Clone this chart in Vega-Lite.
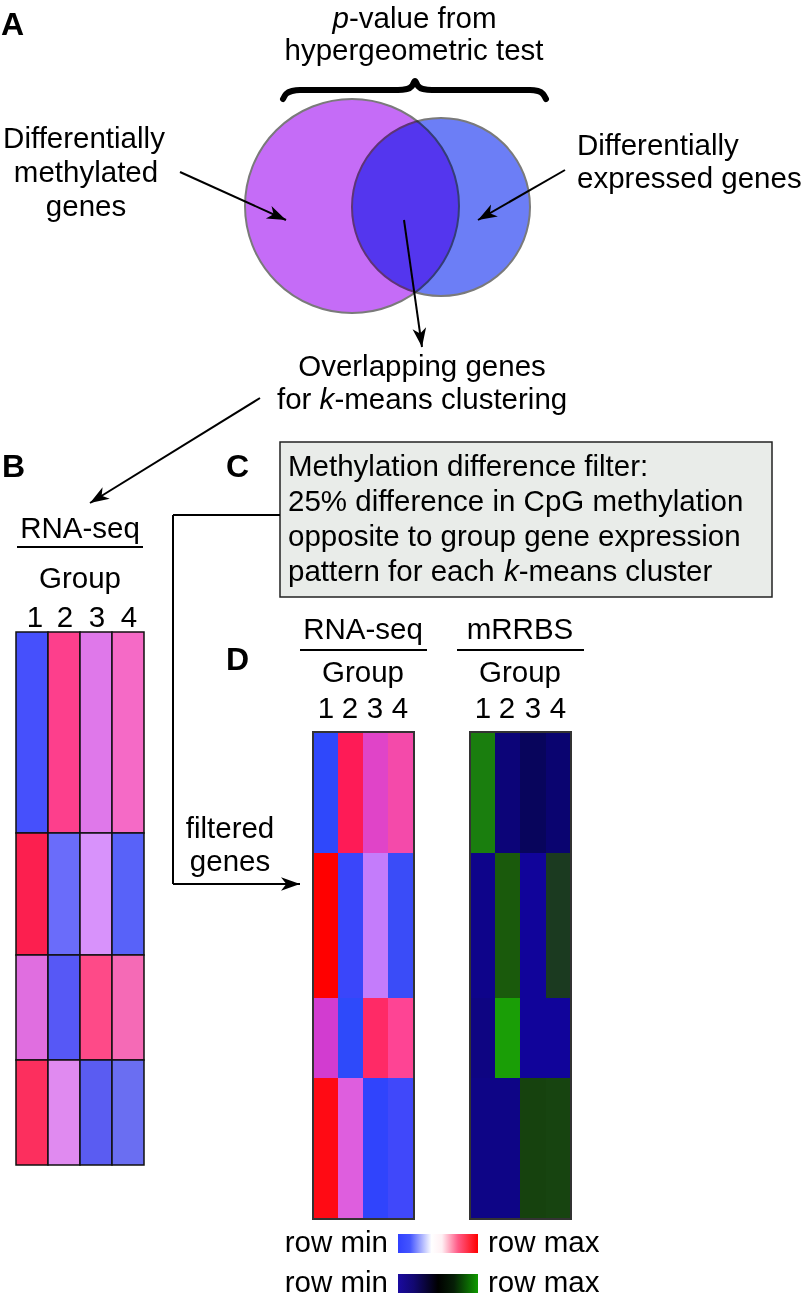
{
  "$schema": "https://vega.github.io/schema/vega-lite/v6.json",
  "width": 806,
  "height": 1297,
  "padding": 0,
  "autosize": "none",
  "background": "white",
  "config": {"view": {"stroke": null}},
  "encoding": {
    "x": {"field": "x", "type": "quantitative", "scale": {"domain": [0, 806], "nice": false, "zero": false}, "axis": null},
    "y": {"field": "y", "type": "quantitative", "scale": {"domain": [0, 1297], "nice": false, "zero": false, "reverse": true}, "axis": null}
  },
  "datasets": {
    "box": [{"x": 280, "x2": 772, "y": 442, "y2": 597}],
    "venn": [{"set": "methylated", "x": 352, "y": 206}, {"set": "expressed", "x": 441, "y": 207}],
    "brace": [
      {"i": 1, "x": 283, "y": 99}, {"i": 2, "x": 286, "y": 94}, {"i": 3, "x": 292, "y": 91}, {"i": 4, "x": 300, "y": 90},
      {"i": 5, "x": 398, "y": 90}, {"i": 6, "x": 407, "y": 89}, {"i": 7, "x": 412, "y": 86}, {"i": 8, "x": 415, "y": 81},
      {"i": 9, "x": 418, "y": 86}, {"i": 10, "x": 423, "y": 89}, {"i": 11, "x": 432, "y": 90}, {"i": 12, "x": 530, "y": 90},
      {"i": 13, "x": 538, "y": 91}, {"i": 14, "x": 543, "y": 94}, {"i": 15, "x": 546, "y": 99}
    ],
    "cellsB": [
      {"x": 16, "x2": 48, "y": 632, "y2": 833, "colour": "#4650fc"},
      {"x": 48, "x2": 80, "y": 632, "y2": 833, "colour": "#fd3f8c"},
      {"x": 80, "x2": 112, "y": 632, "y2": 833, "colour": "#df78ea"},
      {"x": 112, "x2": 144, "y": 632, "y2": 833, "colour": "#f56ac6"},
      {"x": 16, "x2": 48, "y": 833, "y2": 955, "colour": "#fc1f4f"},
      {"x": 48, "x2": 80, "y": 833, "y2": 955, "colour": "#6a6cfa"},
      {"x": 80, "x2": 112, "y": 833, "y2": 955, "colour": "#d892fb"},
      {"x": 112, "x2": 144, "y": 833, "y2": 955, "colour": "#5862f9"},
      {"x": 16, "x2": 48, "y": 955, "y2": 1060, "colour": "#e06ee0"},
      {"x": 48, "x2": 80, "y": 955, "y2": 1060, "colour": "#5658f6"},
      {"x": 80, "x2": 112, "y": 955, "y2": 1060, "colour": "#fe4a88"},
      {"x": 112, "x2": 144, "y": 955, "y2": 1060, "colour": "#f56ab6"},
      {"x": 16, "x2": 48, "y": 1060, "y2": 1165, "colour": "#fc2f5e"},
      {"x": 48, "x2": 80, "y": 1060, "y2": 1165, "colour": "#e08af0"},
      {"x": 80, "x2": 112, "y": 1060, "y2": 1165, "colour": "#5a5cf2"},
      {"x": 112, "x2": 144, "y": 1060, "y2": 1165, "colour": "#6a6ef2"}
    ],
    "cellsD": [
      {"x": 313, "x2": 338, "y": 732, "y2": 853, "colour": "#2f48fb"},
      {"x": 338, "x2": 363, "y": 732, "y2": 853, "colour": "#fe1b56"},
      {"x": 363, "x2": 388, "y": 732, "y2": 853, "colour": "#e044c8"},
      {"x": 388, "x2": 414, "y": 732, "y2": 853, "colour": "#f44aaa"},
      {"x": 313, "x2": 338, "y": 853, "y2": 998, "colour": "#ff0000"},
      {"x": 338, "x2": 363, "y": 853, "y2": 998, "colour": "#3a46fa"},
      {"x": 363, "x2": 388, "y": 853, "y2": 998, "colour": "#c47cfb"},
      {"x": 388, "x2": 414, "y": 853, "y2": 998, "colour": "#3a4cf8"},
      {"x": 313, "x2": 338, "y": 998, "y2": 1078, "colour": "#d23cd0"},
      {"x": 338, "x2": 363, "y": 998, "y2": 1078, "colour": "#2e4afa"},
      {"x": 363, "x2": 388, "y": 998, "y2": 1078, "colour": "#ff2a66"},
      {"x": 388, "x2": 414, "y": 998, "y2": 1078, "colour": "#fe4494"},
      {"x": 313, "x2": 338, "y": 1078, "y2": 1219, "colour": "#ff0a14"},
      {"x": 338, "x2": 363, "y": 1078, "y2": 1219, "colour": "#de5ede"},
      {"x": 363, "x2": 388, "y": 1078, "y2": 1219, "colour": "#3044fc"},
      {"x": 388, "x2": 414, "y": 1078, "y2": 1219, "colour": "#4048fa"},
      {"x": 470, "x2": 495, "y": 732, "y2": 853, "colour": "#1a7e0e"},
      {"x": 495, "x2": 520, "y": 732, "y2": 853, "colour": "#0c0478"},
      {"x": 520, "x2": 546, "y": 732, "y2": 853, "colour": "#08055c"},
      {"x": 546, "x2": 571, "y": 732, "y2": 853, "colour": "#0a0470"},
      {"x": 470, "x2": 495, "y": 853, "y2": 998, "colour": "#0e048a"},
      {"x": 495, "x2": 520, "y": 853, "y2": 998, "colour": "#1a5a0c"},
      {"x": 520, "x2": 546, "y": 853, "y2": 998, "colour": "#11049a"},
      {"x": 546, "x2": 571, "y": 853, "y2": 998, "colour": "#1b3a20"},
      {"x": 470, "x2": 495, "y": 998, "y2": 1078, "colour": "#0e0582"},
      {"x": 495, "x2": 520, "y": 998, "y2": 1078, "colour": "#1a9e06"},
      {"x": 520, "x2": 546, "y": 998, "y2": 1078, "colour": "#11049a"},
      {"x": 546, "x2": 571, "y": 998, "y2": 1078, "colour": "#11049a"},
      {"x": 470, "x2": 495, "y": 1078, "y2": 1219, "colour": "#0e0586"},
      {"x": 495, "x2": 520, "y": 1078, "y2": 1219, "colour": "#0e0586"},
      {"x": 520, "x2": 546, "y": 1078, "y2": 1219, "colour": "#16420e"},
      {"x": 546, "x2": 571, "y": 1078, "y2": 1219, "colour": "#174410"}
    ],
    "frames": [
      {"x": 313, "x2": 414, "y": 732, "y2": 1219},
      {"x": 470, "x2": 571, "y": 732, "y2": 1219}
    ],
    "scales": [
      {"name": "rna", "x": 398, "x2": 478, "y": 1234, "y2": 1253},
      {"name": "mrrbs", "x": 398, "x2": 478, "y": 1274, "y2": 1293}
    ],
    "segments": [
      {"x": 180, "y": 172, "x2": 286, "y2": 220},
      {"x": 565, "y": 170, "x2": 478, "y2": 220},
      {"x": 404, "y": 220, "x2": 422, "y2": 347},
      {"x": 260, "y": 398, "x2": 90, "y2": 503},
      {"x": 17, "y": 547, "x2": 143, "y2": 547},
      {"x": 300, "y": 650, "x2": 427, "y2": 650},
      {"x": 457, "y": 650, "x2": 584, "y2": 650},
      {"x": 280, "y": 515, "x2": 173, "y2": 515},
      {"x": 173, "y": 515, "x2": 173, "y2": 884},
      {"x": 173, "y": 884, "x2": 300, "y2": 884}
    ],
    "heads": [
      {"x": 286, "y": 220, "dir": 24.4},
      {"x": 478, "y": 220, "dir": 150.1},
      {"x": 422, "y": 347, "dir": 81.9},
      {"x": 90, "y": 503, "dir": 148.3},
      {"x": 300, "y": 884, "dir": 0}
    ],
    "texts": [
      {"kind": "panel", "text": "A", "x": 1, "y": 35},
      {"kind": "panel", "text": "B", "x": 2, "y": 477},
      {"kind": "panel", "text": "C", "x": 226, "y": 477},
      {"kind": "panel", "text": "D", "x": 226, "y": 670},
      {"kind": "ir", "text": "p", "x": 349, "y": 28},
      {"kind": "l", "text": "-value from", "x": 349, "y": 28},
      {"kind": "c", "text": "hypergeometric test", "x": 414, "y": 60},
      {"kind": "c", "text": "Differentially", "x": 84, "y": 148},
      {"kind": "c", "text": "methylated", "x": 86, "y": 182},
      {"kind": "c", "text": "genes", "x": 86, "y": 216},
      {"kind": "l", "text": "Differentially", "x": 577, "y": 155},
      {"kind": "l", "text": "expressed genes", "x": 577, "y": 188},
      {"kind": "c", "text": "Overlapping genes", "x": 422, "y": 376},
      {"kind": "r", "text": "for", "x": 311.4, "y": 409},
      {"kind": "il", "text": "k", "x": 319.6, "y": 409},
      {"kind": "l", "text": "-means clustering", "x": 334.4, "y": 409},
      {"kind": "l", "text": "Methylation difference filter:", "x": 288, "y": 476},
      {"kind": "l", "text": "25% difference in CpG methylation", "x": 288, "y": 511},
      {"kind": "l", "text": "opposite to group gene expression", "x": 288, "y": 546},
      {"kind": "l", "text": "pattern for each", "x": 288, "y": 581},
      {"kind": "il", "text": "k", "x": 504, "y": 581},
      {"kind": "l", "text": "-means cluster", "x": 518.8, "y": 581},
      {"kind": "c", "text": "RNA-seq", "x": 80, "y": 538},
      {"kind": "c", "text": "Group", "x": 80, "y": 588},
      {"kind": "c", "text": "1", "x": 35, "y": 627},
      {"kind": "c", "text": "2", "x": 65, "y": 627},
      {"kind": "c", "text": "3", "x": 97, "y": 627},
      {"kind": "c", "text": "4", "x": 129, "y": 627},
      {"kind": "c", "text": "RNA-seq", "x": 363, "y": 639},
      {"kind": "c", "text": "Group", "x": 363, "y": 682},
      {"kind": "c", "text": "1", "x": 326, "y": 718},
      {"kind": "c", "text": "2", "x": 350, "y": 718},
      {"kind": "c", "text": "3", "x": 375, "y": 718},
      {"kind": "c", "text": "4", "x": 400, "y": 718},
      {"kind": "c", "text": "mRRBS", "x": 520, "y": 639},
      {"kind": "c", "text": "Group", "x": 520, "y": 682},
      {"kind": "c", "text": "1", "x": 483, "y": 718},
      {"kind": "c", "text": "2", "x": 507, "y": 718},
      {"kind": "c", "text": "3", "x": 533, "y": 718},
      {"kind": "c", "text": "4", "x": 558, "y": 718},
      {"kind": "c", "text": "filtered", "x": 230, "y": 838},
      {"kind": "c", "text": "genes", "x": 230, "y": 871},
      {"kind": "r", "text": "row min", "x": 388, "y": 1252},
      {"kind": "l", "text": "row max", "x": 488, "y": 1252},
      {"kind": "r", "text": "row min", "x": 388, "y": 1292},
      {"kind": "l", "text": "row max", "x": 488, "y": 1292}
    ]
  },
  "layer": [
    {
      "data": {"name": "box"},
      "mark": {"type": "rect", "fill": "#e9ece9", "stroke": "#222222", "strokeWidth": 1.5},
      "encoding": {"x2": {"field": "x2"}, "y2": {"field": "y2"}}
    },
    {
      "data": {"name": "venn"},
      "transform": [{"filter": "datum.set === 'methylated'"}],
      "mark": {"type": "point", "shape": "circle", "filled": true, "opacity": 1, "size": 45796, "fill": "#c56cf7", "stroke": "#7a7a7a", "strokeWidth": 2}
    },
    {
      "data": {"name": "venn"},
      "transform": [{"filter": "datum.set === 'expressed'"}],
      "mark": {"type": "point", "shape": "circle", "filled": true, "opacity": 1, "size": 31684, "fill": "#6c7ef6", "stroke": "#7a7a7a", "strokeWidth": 2, "blend": "multiply"}
    },
    {
      "data": {"name": "brace"},
      "mark": {"type": "line", "interpolate": "monotone", "stroke": "#000000", "strokeWidth": 6, "strokeCap": "round"},
      "encoding": {"order": {"field": "i", "type": "quantitative"}}
    },
    {
      "data": {"name": "cellsB"},
      "mark": {"type": "rect", "stroke": "#111111", "strokeWidth": 1.5},
      "encoding": {"x2": {"field": "x2"}, "y2": {"field": "y2"}, "fill": {"field": "colour", "type": "nominal", "scale": null}}
    },
    {
      "data": {"name": "cellsD"},
      "mark": {"type": "rect"},
      "encoding": {"x2": {"field": "x2"}, "y2": {"field": "y2"}, "fill": {"field": "colour", "type": "nominal", "scale": null}}
    },
    {
      "data": {"name": "frames"},
      "mark": {"type": "rect", "filled": false, "stroke": "#333333", "strokeWidth": 2},
      "encoding": {"x2": {"field": "x2"}, "y2": {"field": "y2"}}
    },
    {
      "data": {"name": "scales"},
      "transform": [{"filter": "datum.name === 'rna'"}],
      "mark": {"type": "rect", "fill": {"gradient": "linear", "x1": 0, "y1": 0, "x2": 1, "y2": 0, "stops": [
        {"offset": 0, "color": "#3040ff"}, {"offset": 0.15, "color": "#4455ff"}, {"offset": 0.42, "color": "#ffffff"},
        {"offset": 0.55, "color": "#fff0f4"}, {"offset": 0.75, "color": "#ff5a86"}, {"offset": 1, "color": "#ff0000"}]}},
      "encoding": {"x2": {"field": "x2"}, "y2": {"field": "y2"}}
    },
    {
      "data": {"name": "scales"},
      "transform": [{"filter": "datum.name === 'mrrbs'"}],
      "mark": {"type": "rect", "fill": {"gradient": "linear", "x1": 0, "y1": 0, "x2": 1, "y2": 0, "stops": [
        {"offset": 0, "color": "#1a0aa0"}, {"offset": 0.2, "color": "#120870"}, {"offset": 0.5, "color": "#000000"},
        {"offset": 0.7, "color": "#061f06"}, {"offset": 1, "color": "#0f9a00"}]}},
      "encoding": {"x2": {"field": "x2"}, "y2": {"field": "y2"}}
    },
    {
      "data": {"name": "segments"},
      "mark": {"type": "rule", "stroke": "#000000", "strokeWidth": 2},
      "encoding": {"x2": {"field": "x2"}, "y2": {"field": "y2"}}
    },
    {
      "data": {"name": "heads"},
      "mark": {"type": "point", "shape": "M0,0L-1,-0.36L-0.72,0L-1,0.36Z", "filled": true, "opacity": 1, "fill": "#000000", "strokeWidth": 0, "size": 1444},
      "encoding": {"angle": {"field": "dir", "type": "quantitative", "scale": null}}
    },
    {
      "data": {"name": "texts"},
      "transform": [{"filter": "datum.kind === 'panel'"}],
      "mark": {"type": "text", "font": "Liberation Sans, Arial, sans-serif", "fontWeight": "bold", "fontSize": 32, "align": "left", "baseline": "alphabetic", "fill": "#000000"},
      "encoding": {"text": {"field": "text"}}
    },
    {
      "data": {"name": "texts"},
      "transform": [{"filter": "datum.kind === 'c'"}],
      "mark": {"type": "text", "font": "Liberation Sans, Arial, sans-serif", "fontSize": 29.5, "align": "center", "baseline": "alphabetic", "fill": "#000000"},
      "encoding": {"text": {"field": "text"}}
    },
    {
      "data": {"name": "texts"},
      "transform": [{"filter": "datum.kind === 'l'"}],
      "mark": {"type": "text", "font": "Liberation Sans, Arial, sans-serif", "fontSize": 29.5, "align": "left", "baseline": "alphabetic", "fill": "#000000"},
      "encoding": {"text": {"field": "text"}}
    },
    {
      "data": {"name": "texts"},
      "transform": [{"filter": "datum.kind === 'r'"}],
      "mark": {"type": "text", "font": "Liberation Sans, Arial, sans-serif", "fontSize": 29.5, "align": "right", "baseline": "alphabetic", "fill": "#000000"},
      "encoding": {"text": {"field": "text"}}
    },
    {
      "data": {"name": "texts"},
      "transform": [{"filter": "datum.kind === 'il'"}],
      "mark": {"type": "text", "font": "Liberation Sans, Arial, sans-serif", "fontStyle": "italic", "fontSize": 29.5, "align": "left", "baseline": "alphabetic", "fill": "#000000"},
      "encoding": {"text": {"field": "text"}}
    },
    {
      "data": {"name": "texts"},
      "transform": [{"filter": "datum.kind === 'ir'"}],
      "mark": {"type": "text", "font": "Liberation Sans, Arial, sans-serif", "fontStyle": "italic", "fontSize": 29.5, "align": "right", "baseline": "alphabetic", "fill": "#000000"},
      "encoding": {"text": {"field": "text"}}
    }
  ]
}
